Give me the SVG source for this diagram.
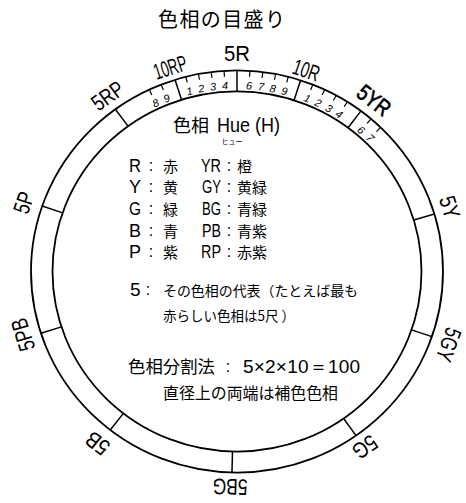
<svg xmlns="http://www.w3.org/2000/svg" width="466" height="503" viewBox="0 0 466 503">
<style>
.ring{fill:none;stroke:#000;stroke-width:1.8}
.div{stroke:#000;stroke-width:1.5}
.tick{stroke:#000;stroke-width:1.2}
.dig{font-family:"Liberation Sans",sans-serif;font-size:11px;font-style:italic;text-anchor:middle;fill:#000}
.lab{font-family:"Liberation Sans",sans-serif;font-size:23px;text-anchor:middle;fill:#000}
.jp{font-family:"Noto Sans CJK JP",sans-serif;fill:#000}
.lt{font-family:"Liberation Sans",sans-serif;fill:#000}
.col{font-family:"Liberation Sans",sans-serif;font-size:16px;text-anchor:middle;fill:#000}
</style>
<rect width="466" height="503" fill="#fff"/>
<g id="title"><text class="jp" x="158" y="27" font-size="20" textLength="127" lengthAdjust="spacing">色相の目盛り</text></g>
<g id="wheel" transform="translate(237,271.5) scale(1,0.976)">
<circle class="ring" r="206" stroke-width="2"/>
<circle class="ring" r="184.5"/>
<g id="dividers">
<line class="div" x1="0" y1="-184.5" x2="0" y2="-206" transform="rotate(-17.5)"/>
<line class="div" x1="0" y1="-184.5" x2="0" y2="-206"/>
<line class="div" x1="0" y1="-184.5" x2="0" y2="-206" transform="rotate(18)"/>
<line class="div" x1="0" y1="-184.5" x2="0" y2="-206" transform="rotate(37)"/>
<line class="div" x1="0" y1="-184.5" x2="0" y2="-206" transform="rotate(73.4)"/>
<line class="div" x1="0" y1="-184.5" x2="0" y2="-206" transform="rotate(108.9)"/>
<line class="div" x1="0" y1="-184.5" x2="0" y2="-206" transform="rotate(144.7)"/>
<line class="div" x1="0" y1="-184.5" x2="0" y2="-206" transform="rotate(181.4)"/>
<line class="div" x1="0" y1="-184.5" x2="0" y2="-206" transform="rotate(218)"/>
<line class="div" x1="0" y1="-184.5" x2="0" y2="-206" transform="rotate(252.1)"/>
<line class="div" x1="0" y1="-184.5" x2="0" y2="-206" transform="rotate(289)"/>
<line class="div" x1="0" y1="-184.5" x2="0" y2="-206" transform="rotate(323.8)"/>
</g>
<g id="ticks">
<line class="tick" x1="0" y1="-206" x2="0" y2="-200" transform="rotate(-25.2)"/>
<line class="tick" x1="0" y1="-206" x2="0" y2="-200" transform="rotate(-21.6)"/>
<line class="tick" x1="0" y1="-206" x2="0" y2="-200" transform="rotate(-14.4)"/>
<line class="tick" x1="0" y1="-206" x2="0" y2="-200" transform="rotate(-10.8)"/>
<line class="tick" x1="0" y1="-206" x2="0" y2="-200" transform="rotate(-7.2)"/>
<line class="tick" x1="0" y1="-206" x2="0" y2="-200" transform="rotate(-3.6)"/>
<line class="tick" x1="0" y1="-206" x2="0" y2="-200" transform="rotate(3.6)"/>
<line class="tick" x1="0" y1="-206" x2="0" y2="-200" transform="rotate(7.2)"/>
<line class="tick" x1="0" y1="-206" x2="0" y2="-200" transform="rotate(10.8)"/>
<line class="tick" x1="0" y1="-206" x2="0" y2="-200" transform="rotate(14.4)"/>
<line class="tick" x1="0" y1="-206" x2="0" y2="-200" transform="rotate(21.6)"/>
<line class="tick" x1="0" y1="-206" x2="0" y2="-200" transform="rotate(25.2)"/>
<line class="tick" x1="0" y1="-206" x2="0" y2="-200" transform="rotate(28.8)"/>
<line class="tick" x1="0" y1="-206" x2="0" y2="-200" transform="rotate(32.4)"/>
<line class="tick" x1="0" y1="-206" x2="0" y2="-200" transform="rotate(40.6)"/>
<line class="tick" x1="0" y1="-206" x2="0" y2="-200" transform="rotate(44.2)"/>
</g>
<g id="digits">
<text class="dig" y="-187" transform="rotate(-25.2)">8</text>
<text class="dig" y="-187" transform="rotate(-21.6)">9</text>
<text class="dig" y="-187" transform="rotate(-14.4)">1</text>
<text class="dig" y="-187" transform="rotate(-10.8)">2</text>
<text class="dig" y="-187" transform="rotate(-7.2)">3</text>
<text class="dig" y="-187" transform="rotate(-3.6)">4</text>
<text class="dig" y="-187" transform="rotate(3.6)">6</text>
<text class="dig" y="-187" transform="rotate(7.2)">7</text>
<text class="dig" y="-187" transform="rotate(10.8)">8</text>
<text class="dig" y="-187" transform="rotate(14.4)">9</text>
<text class="dig" y="-187" transform="rotate(21.6)">1</text>
<text class="dig" y="-187" transform="rotate(25.2)">2</text>
<text class="dig" y="-187" transform="rotate(28.8)">3</text>
<text class="dig" y="-187" transform="rotate(32.4)">4</text>
<text class="dig" y="-187" transform="rotate(40.6)">6</text>
<text class="dig" y="-187" transform="rotate(44.2)">7</text>
</g>
<g id="labels">
<text class="lab" y="-224" dy="0.36em" font-size="27" textLength="26" lengthAdjust="spacingAndGlyphs">5R</text>
<text class="lab" y="-220" dy="0.36em" textLength="34" lengthAdjust="spacingAndGlyphs" transform="rotate(-17.7)">10RP</text>
<text class="lab" y="-218" dy="0.36em" textLength="27" lengthAdjust="spacingAndGlyphs" transform="rotate(18.6)">10R</text>
<text class="lab" y="-223" dy="0.36em" font-size="24" textLength="36" lengthAdjust="spacingAndGlyphs" stroke="#000" stroke-width="0.7" transform="rotate(38)">5YR</text>
<text class="lab" y="-223" dy="0.36em" textLength="23" lengthAdjust="spacingAndGlyphs" transform="rotate(72.8)">5Y</text>
<text class="lab" y="-225" dy="0.36em" textLength="35" lengthAdjust="spacingAndGlyphs" transform="rotate(109.5)">5GY</text>
<text class="lab" y="-221" dy="0.36em" textLength="25" lengthAdjust="spacingAndGlyphs" transform="rotate(144.6)">5G</text>
<text class="lab" y="-221" dy="0.36em" textLength="35" lengthAdjust="spacingAndGlyphs" transform="rotate(181.8)">5BG</text>
<text class="lab" y="-225" dy="0.36em" textLength="24" lengthAdjust="spacingAndGlyphs" transform="rotate(218.4)">5B</text>
<text class="lab" y="-224" dy="0.36em" textLength="34" lengthAdjust="spacingAndGlyphs" transform="rotate(253.2)">5PB</text>
<text class="lab" y="-225" dy="0.36em" textLength="22" lengthAdjust="spacingAndGlyphs" transform="rotate(288.3)">5P</text>
<text class="lab" y="-222" dy="0.36em" textLength="34" lengthAdjust="spacingAndGlyphs" transform="rotate(324.3)">5RP</text>
</g>
</g>
<g id="legend">
<text class="jp" x="173" y="132" font-size="18">色相</text>
<text class="lt" x="217" y="132" font-size="20" textLength="63" lengthAdjust="spacingAndGlyphs">Hue (H)</text>
<text class="jp" x="232" y="144" font-size="7" text-anchor="middle">ヒュー</text>
<g font-size="18">
<text class="lt" x="129" y="172" textLength="12" lengthAdjust="spacingAndGlyphs">R</text><text class="col" x="151" y="171">:</text>
<text class="lt" x="129" y="193" textLength="12" lengthAdjust="spacingAndGlyphs">Y</text><text class="col" x="151" y="192">:</text>
<text class="lt" x="129" y="215" textLength="12" lengthAdjust="spacingAndGlyphs">G</text><text class="col" x="151" y="214">:</text>
<text class="lt" x="129" y="237" textLength="12" lengthAdjust="spacingAndGlyphs">B</text><text class="col" x="151" y="236">:</text>
<text class="lt" x="129" y="258" textLength="12" lengthAdjust="spacingAndGlyphs">P</text><text class="col" x="151" y="257">:</text>
<text class="lt" x="201" y="172" textLength="20" lengthAdjust="spacingAndGlyphs">YR</text><text class="col" x="229" y="171">:</text>
<text class="lt" x="202" y="193" textLength="19" lengthAdjust="spacingAndGlyphs">GY</text><text class="col" x="229" y="192">:</text>
<text class="lt" x="202" y="215" textLength="19" lengthAdjust="spacingAndGlyphs">BG</text><text class="col" x="229" y="214">:</text>
<text class="lt" x="202" y="237" textLength="19" lengthAdjust="spacingAndGlyphs">PB</text><text class="col" x="229" y="236">:</text>
<text class="lt" x="201" y="258" textLength="20" lengthAdjust="spacingAndGlyphs">RP</text><text class="col" x="229" y="257">:</text>
</g>
<g font-size="15">
<text class="jp" x="163" y="172">赤</text><text class="jp" x="237" y="172">橙</text>
<text class="jp" x="163" y="193">黄</text><text class="jp" x="237" y="193">黄緑</text>
<text class="jp" x="163" y="215">緑</text><text class="jp" x="237" y="215">青緑</text>
<text class="jp" x="163" y="237">青</text><text class="jp" x="237" y="237">青紫</text>
<text class="jp" x="163" y="258">紫</text><text class="jp" x="237" y="258">赤紫</text>
</g>
</g>
<g id="notes">
<text class="lt" x="130" y="296" font-size="19">5</text>
<text class="col" x="148" y="295">:</text>
<text class="jp" x="163" y="296" font-size="14" textLength="195" lengthAdjust="spacingAndGlyphs">その色相の代表（たとえば最も</text>
<text class="jp" x="163" y="321" font-size="14" textLength="132" lengthAdjust="spacingAndGlyphs">赤らしい色相は5尺 ）</text>
<text class="jp" x="128" y="373" font-size="17" textLength="87" lengthAdjust="spacingAndGlyphs">色相分割法</text>
<text class="col" x="228" y="372">:</text>
<text class="lt" x="243" y="373" font-size="19" textLength="117" lengthAdjust="spacing">5×2×10＝100</text>
<text class="jp" x="163" y="399" font-size="16" textLength="175" lengthAdjust="spacingAndGlyphs">直径上の両端は補色色相</text>
</g>
</svg>
